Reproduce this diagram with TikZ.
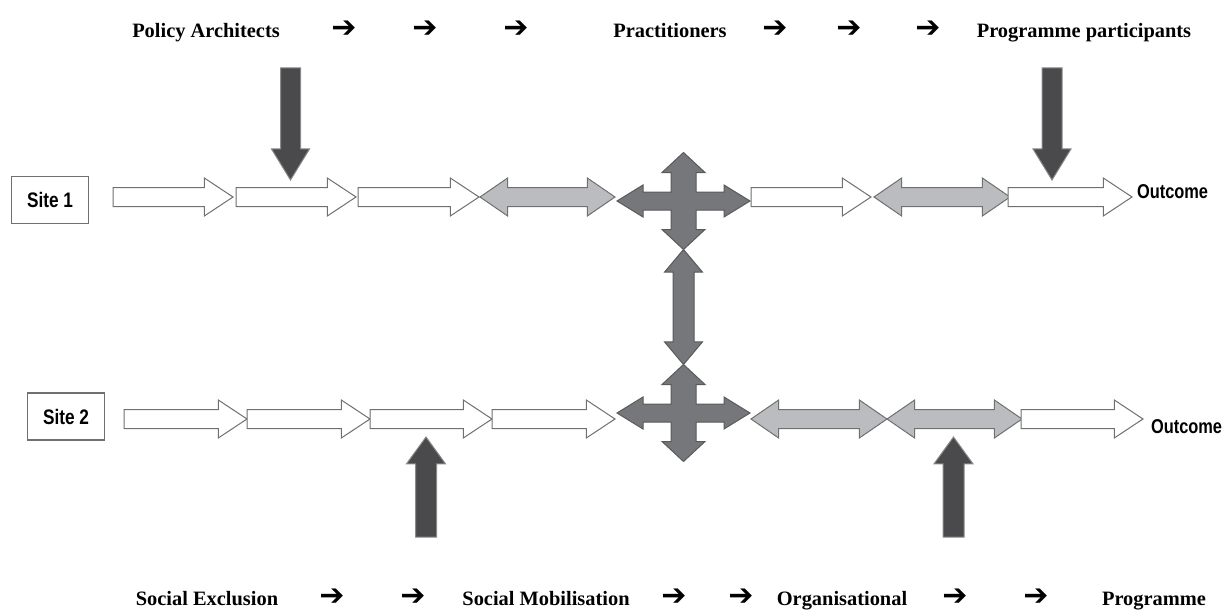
\documentclass[tikz,border=0pt]{standalone}
\usepackage{fontspec}
\setmainfont{Liberation Serif}
\newfontfamily\sitefont[FakeStretch=0.82]{Liberation Sans}
\newfontfamily\symfont{DejaVu Sans}
\usetikzlibrary{shapes.arrows}

\definecolor{edgegray}{HTML}{707070}
\definecolor{lightfill}{HTML}{BBBCBF}
\definecolor{crossfill}{HTML}{76777A}
\definecolor{crossedge}{HTML}{5A5A5C}
\definecolor{darkfill}{HTML}{4A4A4C}
\definecolor{darkedge}{HTML}{8A8A8A}

\tikzset{
  every node/.style={inner sep=0pt, outer sep=0pt},
  heading/.style={anchor=base, font=\fontsize{20.4}{24}\selectfont\bfseries},
  pointer/.style={anchor=base, font=\symfont\bfseries\fontsize{30}{32}\selectfont},
  sitebox/.style={draw=edgegray, line width=1.2pt, minimum width=77pt,
    minimum height=47pt, font=\sitefont\bfseries\fontsize{21}{24}\selectfont},
  outcome/.style={anchor=west, font=\sitefont\bfseries\fontsize{20}{22}\selectfont},
  flowarrow/.style={single arrow, draw=edgegray, fill=white, line width=1pt,
    inner xsep=0pt, inner ysep=9pt, minimum width=0pt,
    single arrow head extend=9.5pt, single arrow tip angle=67, anchor=tail},
  linkarrow/.style={double arrow, draw=edgegray, fill=lightfill, line width=1pt,
    inner xsep=0pt, inner ysep=9pt, minimum width=0pt,
    double arrow head extend=9.5pt, double arrow tip angle=69},
  inputarrow/.style={single arrow, draw=darkedge, fill=darkfill, line width=1pt,
    inner xsep=0pt, inner ysep=9.5pt, minimum width=0pt,
    single arrow head extend=9pt, anchor=tail},
  quadarrow/.style={draw=crossedge, fill=crossfill, line width=1pt, line join=miter}
}

\begin{document}
\begin{tikzpicture}[x=1pt, y=-1pt]
  \useasboundingbox (0,0) rectangle (1224,610);

  % actors along the top
  \node[heading] (policy) at (206,38) {Policy Architects};
  \node[pointer] (ptA) at (344,38) {➔};
  \node[pointer] (ptB) at (425,38) {➔};
  \node[pointer] (ptC) at (516,38) {➔};
  \node[heading] (practice) at (670,38) {Practitioners};
  \node[pointer] (ptD) at (775,38) {➔};
  \node[pointer] (ptE) at (849,38) {➔};
  \node[pointer] (ptF) at (928,38) {➔};
  \node[heading] (participants) at (1084,38) {Programme participants};

  % site 1
  \node[sitebox] (site1) at (50,200) {Site 1};
  \node[flowarrow, minimum height=120pt] (s1a) at (113,197) {};
  \node[flowarrow, minimum height=120pt] (s1b) at (236,197) {};
  \node[flowarrow, minimum height=121pt] (s1c) at (358,197) {};
  \node[linkarrow, minimum height=135pt] (s1d) at (547.5,197) {};
  \node[flowarrow, minimum height=120pt] (s1e) at (751,197) {};
  \node[linkarrow, minimum height=136pt] (s1f) at (942,197) {};
  \node[flowarrow, minimum height=124pt] (s1g) at (1008,197) {};
  \node[outcome] (out1) at (1137,192) {Outcome};

  % site 2
  \node[sitebox] (site2) at (66,416.5) {Site 2};
  \node[flowarrow, minimum height=123pt] (s2a) at (124,419) {};
  \node[flowarrow, minimum height=123pt] (s2b) at (247,419) {};
  \node[flowarrow, minimum height=122pt] (s2c) at (370,419) {};
  \node[flowarrow, minimum height=123pt] (s2d) at (492,419) {};
  \node[linkarrow, minimum height=136pt] (s2e) at (819,419) {};
  \node[linkarrow, minimum height=135pt] (s2f) at (954.5,419) {};
  \node[flowarrow, minimum height=122pt] (s2g) at (1021,419) {};
  \node[outcome] (out2) at (1151,427) {Outcome};

  % exchange between the sites
  \foreach \cy in {201,413}
    \draw[quadarrow, shift={(683.5,\cy)}]
      (66.5,0) -- (40.5,-16) -- (40.5,-9) -- (12.5,-9) -- (12.5,-28.5)
      -- (21.5,-28.5) -- (0,-48.5) -- (-21.5,-28.5) -- (-12.5,-28.5)
      -- (-12.5,-9) -- (-40.5,-9) -- (-40.5,-16) -- (-66.5,0)
      -- (-40.5,16) -- (-40.5,9) -- (-12.5,9) -- (-12.5,28.5)
      -- (-21.5,28.5) -- (0,48.5) -- (21.5,28.5) -- (12.5,28.5)
      -- (12.5,9) -- (40.5,9) -- (40.5,16) -- cycle;
  \node[double arrow, draw=crossedge, fill=crossfill, line width=1pt,
    inner xsep=0pt, inner ysep=10pt, minimum width=0pt,
    double arrow head extend=8.5pt, double arrow tip angle=80,
    minimum height=115pt, rotate=90] (link) at (683.5,307) {};

  % inputs from above and below
  \node[inputarrow, single arrow tip angle=63, minimum height=112pt,
    rotate=-90] (downA) at (290.5,68) {};
  \node[inputarrow, single arrow tip angle=63, minimum height=112pt,
    rotate=-90] (downB) at (1052,68) {};
  \node[inputarrow, inner ysep=10pt, single arrow tip angle=72,
    minimum height=100pt, rotate=90] (upA) at (426,537) {};
  \node[inputarrow, inner ysep=10pt, single arrow tip angle=72,
    minimum height=100pt, rotate=90] (upB) at (953.5,537) {};

  % stages along the bottom
  \node[heading] (exclusion) at (207,605) {Social Exclusion};
  \node[pointer] (ptG) at (332,605) {➔};
  \node[pointer] (ptH) at (413,605) {➔};
  \node[heading] (mobilisation) at (546,605) {Social Mobilisation};
  \node[pointer] (ptI) at (674,605) {➔};
  \node[pointer] (ptJ) at (741,605) {➔};
  \node[heading] (organisational) at (842,605) {Organisational};
  \node[pointer] (ptK) at (955,605) {➔};
  \node[pointer] (ptL) at (1036,605) {➔};
  \node[heading] (programme) at (1154,605) {Programme};
\end{tikzpicture}
\end{document}
